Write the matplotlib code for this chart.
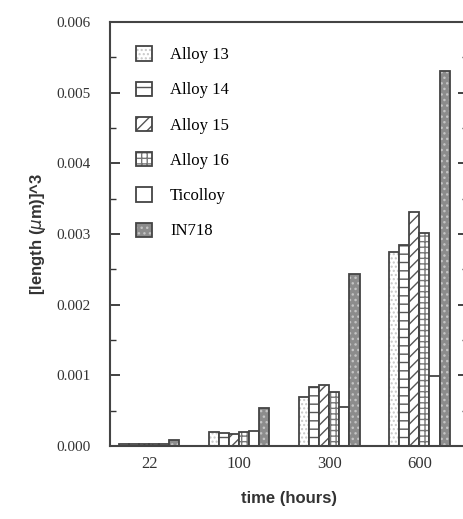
import matplotlib.pyplot as plt
import numpy as np
from matplotlib.ticker import MultipleLocator, FormatStrFormatter
from matplotlib.legend_handler import HandlerTuple

times = ['22', '100', '300', '600']
alloys = ['Alloy 13', 'Alloy 14', 'Alloy 15', 'Alloy 16', 'Ticolloy', 'IN718']

alloy13 = [0.00003, 0.00020, 0.00069, 0.00274]
alloy14 = [0.00003, 0.00019, 0.00083, 0.00284]
alloy15 = [0.00003, 0.00017, 0.00086, 0.00331]
alloy16 = [0.00003, 0.00020, 0.00077, 0.00301]
ticolloy = [0.00003, 0.00021, 0.00055, 0.00099]
in718 = [0.00008, 0.00054, 0.00243, 0.00530]
series = [alloy13, alloy14, alloy15, alloy16, ticolloy, in718]

# fill, hatch, hatch colour for each alloy
styles = [
    ('white', '....', '#c8c8c8'),
    ('white', '--', '#555555'),
    ('white', '///', '#555555'),
    ('white', '+++', '#777777'),
    ('white', '', '#555555'),
    ('#8c8c8c', '...', '#c4c4c4'),
]

plt.rcParams['hatch.linewidth'] = 1.0
serif = 'Liberation Serif'
sans = 'Liberation Sans'

fig = plt.figure(figsize=(4.63, 5.19), dpi=100)
ax = fig.add_axes([110 / 463, 73 / 519, 358 / 463, 424 / 519])

x = np.arange(len(times))
w = 0.112
handles = []
for i, (vals, (fc, hatch, hc)) in enumerate(zip(series, styles)):
    pos = x + (i - 2.5) * w
    b1 = ax.bar(pos, vals, w, color=fc, hatch=hatch, edgecolor=hc, linewidth=0)
    b2 = ax.bar(pos, vals, w, fill=False, edgecolor='#444444', linewidth=1.3)
    handles.append((b1[0], b2[0]))

ax.set_xlim(-0.433, 3.54)
ax.set_ylim(0, 0.006)
ax.set_xticks(x)
ax.set_xticklabels(times, fontfamily=serif, fontsize=12)
ax.yaxis.set_major_locator(MultipleLocator(0.001))
ax.yaxis.set_minor_locator(MultipleLocator(0.0005))
ax.yaxis.set_major_formatter(FormatStrFormatter('%.3f'))
for lab in ax.get_yticklabels():
    lab.set_fontfamily(serif)
    lab.set_fontsize(11)
ax.tick_params(axis='y', which='both', direction='in', right=True, colors='#333333')
ax.tick_params(axis='y', which='major', length=7, width=1.3, pad=14)
ax.tick_params(axis='y', which='minor', length=4, width=1.0)
ax.tick_params(axis='x', length=0, pad=7, colors='#333333')
for s in ax.spines.values():
    s.set_linewidth(1.5)
    s.set_color('#444444')

ax.set_xlabel('time (hours)', fontfamily=sans, fontweight='bold', fontsize=12,
              color='#333333', labelpad=14)
ax.set_ylabel('[length ($\\mu$m)]^3', fontfamily=sans, fontweight='bold',
              fontsize=12, color='#333333', labelpad=6)

ax.legend(handles, alloys, handler_map={tuple: HandlerTuple(ndivide=1)},
          loc='upper left', bbox_to_anchor=(0.03, 0.978), frameon=False,
          prop={'family': serif, 'size': 12}, handlelength=0.95,
          handleheight=0.95, labelspacing=1.1, handletextpad=1.1)

fig.savefig('out.png', dpi=100)
